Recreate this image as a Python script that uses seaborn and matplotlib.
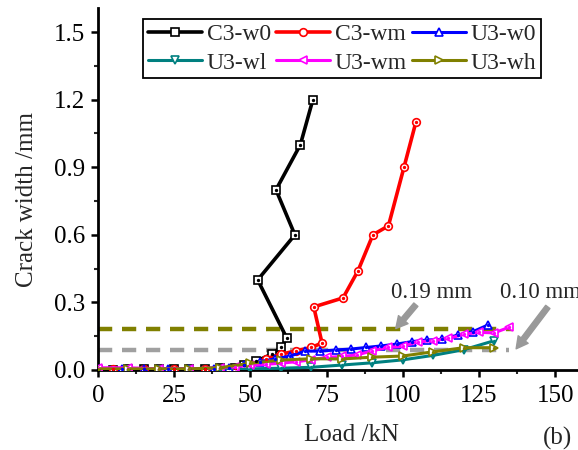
import matplotlib
matplotlib.use('Agg')
import matplotlib.pyplot as plt
import seaborn as sns
from matplotlib.ticker import MultipleLocator

# Crack width vs load
c3_w0_load = [0, 5, 10, 15, 20, 25, 30, 35, 40, 45, 48, 52, 57, 60, 62, 52.4, 64.6, 58.4, 66.4, 70.5]
c3_w0_crack = [0, 0, 0.005, 0.005, 0.005, 0.005, 0.005, 0.005, 0.01, 0.01, 0.02, 0.04, 0.07, 0.10, 0.14, 0.40, 0.60, 0.80, 1.00, 1.20]

c3_wm_load = [0, 5, 10, 15, 20, 25, 30, 35, 40, 45, 50, 55, 60, 65, 70, 73.5, 70.8, 80.4, 85.3, 90.2, 95.3, 100.4, 104.3]
c3_wm_crack = [0.005, 0.005, 0.005, 0.005, 0.005, 0.005, 0.005, 0.005, 0.005, 0.01, 0.02, 0.05, 0.07, 0.085, 0.10, 0.12, 0.28, 0.32, 0.44, 0.60, 0.64, 0.90, 1.10]

u3_w0_load = [0, 8, 15, 23, 30, 38, 43, 48, 53, 58, 63, 68, 73, 78, 83, 88, 93, 98, 103, 108, 113, 118, 123, 128]
u3_w0_crack = [0.005, 0.005, 0.005, 0.005, 0.005, 0.005, 0.01, 0.02, 0.037, 0.049, 0.062, 0.084, 0.084, 0.089, 0.093, 0.10, 0.107, 0.115, 0.126, 0.133, 0.136, 0.155, 0.17, 0.20]

u3_wl_load = [0, 10, 20, 30, 40, 50, 60, 70, 80, 90, 100, 110, 120, 130]
u3_wl_crack = [0, 0, 0, 0, 0, 0.005, 0.008, 0.012, 0.022, 0.032, 0.045, 0.065, 0.09, 0.13]

u3_wm_load = [0, 10, 20, 30, 40, 45, 50, 55, 60, 65, 70, 75, 80, 85, 90, 95, 100, 105, 110, 115, 120, 125, 130, 135]
u3_wm_crack = [0.01, 0.01, 0.005, 0.005, 0.01, 0.015, 0.02, 0.025, 0.03, 0.037, 0.045, 0.056, 0.06, 0.067, 0.085, 0.10, 0.105, 0.125, 0.13, 0.14, 0.158, 0.167, 0.165, 0.19]

u3_wh_load = [0, 10, 20, 30, 40, 50, 60, 70, 80, 90, 100, 110, 120, 130]
u3_wh_crack = [0.005, 0.005, 0.005, 0.005, 0.01, 0.03, 0.044, 0.05, 0.049, 0.057, 0.062, 0.081, 0.099, 0.099]

# dashed reference levels (drawn) and their labels
ref_levels = [0.182, 0.089]
ref_ends = [136, 135]
ref_colors = ['#808000', '#a0a0a0']
ref_labels = ['0.19 mm', '0.10 mm']

sns.set_theme(style='ticks')
plt.rcParams['font.family'] = ['Liberation Serif', 'DejaVu Serif']
plt.rcParams['mathtext.fontset'] = 'stix'

fig = plt.figure(figsize=(5.78, 4.5), dpi=100)
ax = fig.add_axes([98 / 578, 80 / 450, 480 / 578, 362 / 450])

# reference lines behind the curves
for lvl, end, col in zip(ref_levels, ref_ends, ref_colors):
    ax.hlines(lvl, 0, end, colors=col, linestyles=(0, (3.2, 2.2)), lw=3.2, zorder=1)

series = [
    ('C3-w0', c3_w0_load, c3_w0_crack, 'black', 's', 2.6),
    ('C3-wm', c3_wm_load, c3_wm_crack, '#ff0000', 'o', 2.6),
    ('U3-w0', u3_w0_load, u3_w0_crack, '#0000ff', '^', 2.2),
    ('U3-wl', u3_wl_load, u3_wl_crack, '#008080', 'v', 2.2),
    ('U3-wm', u3_wm_load, u3_wm_crack, '#ff00ff', '<', 2.2),
    ('U3-wh', u3_wh_load, u3_wh_crack, '#808000', '>', 2.2),
]

for name, x, y, col, mk, lw in series:
    sns.lineplot(x=x, y=y, ax=ax, sort=False, estimator=None, color=col, lw=lw,
                 marker=mk, markersize=5.5, markerfacecolor='white',
                 markeredgecolor=col, markeredgewidth=1.2, label=name, zorder=3)
    ax.plot(x, y, ls='none', marker='o', ms=1.4, color=col, zorder=4)

h, l = ax.get_legend_handles_labels()
lookup = dict(zip(l, h))
order = ['C3-w0', 'U3-wl', 'C3-wm', 'U3-wm', 'U3-w0', 'U3-wh']
leg = ax.legend([lookup[k] for k in order], order, ncol=3, loc='upper left',
                bbox_to_anchor=(0.094, 0.97), borderaxespad=0, fontsize=17,
                handlelength=2.3, handletextpad=0.2, columnspacing=0.2,
                labelspacing=0.3, borderpad=0.2, fancybox=False, framealpha=1,
                edgecolor='black')
leg.get_frame().set_linewidth(1.3)

# arrows + labels for the reference levels
arrow_kw = dict(arrowstyle='simple,head_width=0.75,head_length=0.7,tail_width=0.32',
                color='#999999', mutation_scale=12, shrinkA=0, shrinkB=0)
ax.annotate('', xy=(97.7, 0.184), xytext=(104.3, 0.29), arrowprops=arrow_kw)
ax.annotate('', xy=(137.2, 0.094), xytext=(147.6, 0.28), arrowprops=arrow_kw,
            annotation_clip=False)
ax.text(96.3, 0.346, ref_labels[0], fontsize=16.5, va='center', ha='left')
ax.text(131.9, 0.346, ref_labels[1], fontsize=16.5, va='center', ha='left', clip_on=False)

ax.set_xlim(0, 157.5)
ax.set_ylim(0, 1.607)
ax.xaxis.set_major_locator(MultipleLocator(25))
ax.xaxis.set_minor_locator(MultipleLocator(12.5))
ax.yaxis.set_major_locator(MultipleLocator(0.3))
ax.yaxis.set_minor_locator(MultipleLocator(0.15))
ax.yaxis.set_major_formatter(matplotlib.ticker.FormatStrFormatter('%.1f'))
ax.tick_params(which='major', direction='out', length=5, width=1.8, labelsize=18, colors='black')
ax.tick_params(which='minor', direction='out', length=3, width=1.5)
ax.tick_params(axis='x', pad=6)
ax.tick_params(axis='y', pad=4)
for s in ['top', 'right']:
    ax.spines[s].set_visible(False)
for s in ['left', 'bottom']:
    ax.spines[s].set_linewidth(2)
    ax.spines[s].set_color('black')

ax.set_xlabel('Load /kN', fontsize=18)
ax.set_ylabel('Crack width /mm', fontsize=18)
ax.xaxis.set_label_coords(0.529, -0.15)
ax.yaxis.set_label_coords(-0.125, 0.47)
fig.text(572 / 578, 12 / 450, '(b)', fontsize=18, ha='right', va='center')

fig.savefig('out.png', dpi=100)
